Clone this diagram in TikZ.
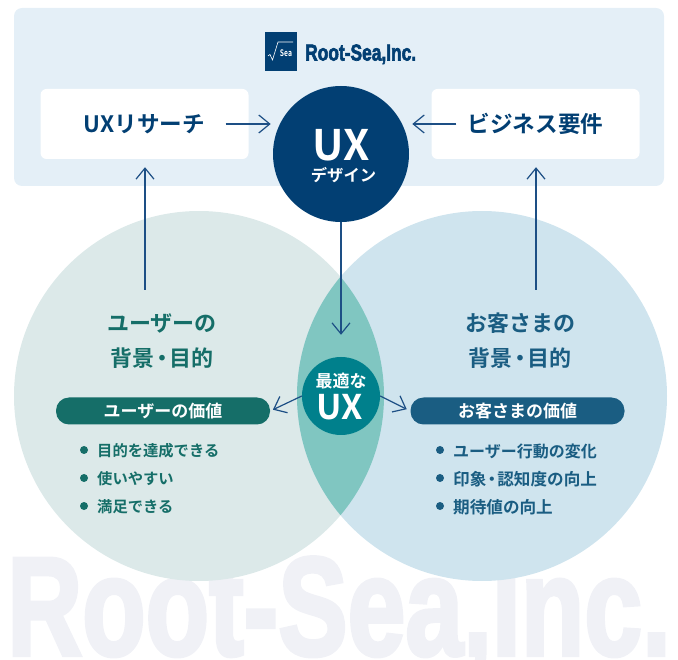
\documentclass[tikz,border=0pt]{standalone}
\usepackage{fontspec}
\setmainfont{Noto Sans CJK JP}[BoldFont={* Bold}]
\newfontfamily\brandfont{Liberation Sans}[BoldFont={* Bold}, BoldFeatures={FakeBold=3}]
\usetikzlibrary{arrows.meta}
\newcommand{\middot}{\hspace{-.17em}・\hspace{-.17em}}
\definecolor{navy}{HTML}{023F73}
\definecolor{arrowblue}{HTML}{1D4F85}
\definecolor{panelblue}{HTML}{E4EFF7}
\definecolor{usergreen}{HTML}{156E68}
\definecolor{custblue}{HTML}{1A5D82}
\definecolor{usercirc}{HTML}{DCE9E9}
\definecolor{custcirc}{HTML}{CFE4EE}
\definecolor{lens}{HTML}{80C6C1}
\definecolor{bestteal}{HTML}{00808C}
\definecolor{mark}{HTML}{F0F1F6}
\tikzset{
    arr/.style = {draw = arrowblue, line width = 1.2pt, -{Straight Barb[length = 11pt, width = 18pt, line width = 1.2pt]}},
    whitebox/.style = {fill = white, rounded corners = 6pt, minimum width = 208pt, minimum height = 70pt, inner sep = 0pt},
    boxtext/.style = {font = \fontsize{22.6}{22}\selectfont\bfseries, text = navy, inner sep = 0pt},
    pill/.style = {rounded corners = 13pt, minimum width = 214pt, minimum height = 27pt, inner sep = 0pt, text = white, font = \fontsize{17}{17}\selectfont\bfseries},
    dot/.style = {circle, minimum size = 8pt, inner sep = 0pt},
    item/.style = {anchor = west, inner sep = 0pt, font = \fontsize{15.3}{15}\selectfont\bfseries}
}
\begin{document}
\begin{tikzpicture}[x = 1pt, y = -1pt]
    \useasboundingbox (0,0) rectangle (678,660);
    % watermark
    \node[text = mark, inner sep = 0pt, anchor = base west] (watermark) at (7,655)
        {\scalebox{.742}[1]{\fontsize{140}{140}\brandfont\bfseries Root-Sea,Inc.}};
    % panel and circles
    \fill [fill = panelblue, rounded corners = 8pt] (14,8) rectangle (664,186);
    \fill [fill = usercirc] (199,396) circle (185);
    \fill [fill = custcirc] (482,396) circle (185);
    \begin{scope}
        \clip (199,396) circle (185);
        \fill [fill = lens] (482,396) circle (185);
    \end{scope}
    % logo
    \fill [fill = navy] (265,32) rectangle (297,71);
    \draw [white, line width = .6pt] (268,56) -- (270,54.5) -- (272.5,60) -- (278,42) -- (293,42);
    \node[text = white, inner sep = 0pt] (logosea) at (286,53)
        {\scalebox{.75}[1]{\fontsize{9}{9}\selectfont\bfseries Sea}};
    \node[text = navy, inner sep = 0pt, anchor = base west] (logoname) at (305,60.5)
        {\scalebox{.755}[1]{\fontsize{23}{23}\brandfont\bfseries Root-Sea,Inc.}};
    % top row
    \node[whitebox] (uxres) at (144.5,124) {};
    \node[boxtext] at (uxres) {UXリサーチ};
    \node[whitebox] (biz) at (535.5,124) {};
    \node[boxtext] at (biz) {ビジネス要件};
    \node[circle, fill = navy, minimum size = 136pt, inner sep = 0pt] (uxdesign) at (341,154) {};
    \node[text = white, inner sep = 0pt, font = \fontsize{42}{42}\selectfont\bfseries] (uxbig) at (341,145) {UX};
    \node[text = white, inner sep = 0pt, font = \fontsize{16.3}{16}\selectfont\bfseries] (uxsub) at (343.5,175.5) {デザイン};
    % headings
    \node[text = usergreen, inner sep = 0pt, font = \fontsize{22}{22}\selectfont\bfseries, align = center] (userhead) at (162,341)
        {ユーザーの\\[13pt]背景\middot 目的};
    \node[text = custblue, inner sep = 0pt, font = \fontsize{22}{22}\selectfont\bfseries, align = center] (custhead) at (520,341)
        {お客さまの\\[13pt]背景\middot 目的};
    % centre
    \node[circle, fill = bestteal, minimum size = 78pt, inner sep = 0pt] (best) at (341,396) {};
    \node[text = white, inner sep = 0pt, font = \fontsize{17}{17}\selectfont\bfseries] (bestjp) at (341,381) {最適な};
    \node[text = white, inner sep = 0pt, font = \fontsize{34}{34}\selectfont\bfseries] (bestux) at (340,407) {UX};
    % value lists
    \node[pill, fill = usergreen] (userpill) at (163,411) {ユーザーの価値};
    \node[pill, fill = custblue] (custpill) at (517.5,411) {お客さまの価値};
    \node[dot, fill = usergreen] (ud1) at (84,450) {};
    \node[dot, fill = usergreen] (ud2) at (84,478) {};
    \node[dot, fill = usergreen] (ud3) at (84,506) {};
    \node[item, text = usergreen] at (97,451) {目的を達成できる};
    \node[item, text = usergreen] at (97,479) {使いやすい};
    \node[item, text = usergreen] at (97,507) {満足できる};
    \node[dot, fill = custblue] (cd1) at (440,450) {};
    \node[dot, fill = custblue] (cd2) at (440,478) {};
    \node[dot, fill = custblue] (cd3) at (440,506) {};
    \node[item, text = custblue, font = \fontsize{16}{16}\selectfont\bfseries] at (453,451) {ユーザー行動の変化};
    \node[item, text = custblue, font = \fontsize{16.6}{16}\selectfont\bfseries] at (453,479) {印象\middot 認知度の向上};
    \node[item, text = custblue, font = \fontsize{16.6}{16}\selectfont\bfseries] at (453,507) {期待値の向上};
    % arrows
    \coordinate (userup) at (145,290);
    \coordinate (custup) at (536,290);
    \draw [arr] ([xshift = -23pt]uxres.east) -- ([xshift = 22pt]uxres.east);
    \draw [arr] ([xshift = 25pt]biz.west) -- ([xshift = -19pt]biz.west);
    \draw [arr] (userup) -- ([yshift = -8pt]userup |- uxres.south);
    \draw [arr] (custup) -- ([yshift = -8pt]custup |- biz.south);
    \draw [arr, shorten >= 22pt] (uxdesign.south) -- (best.north);
    \draw [arr, shorten >= 3pt] (best.west) -- (userpill.east);
    \draw [arr, shorten >= 4pt] (best.east) -- (custpill.west);
\end{tikzpicture}
\end{document}
